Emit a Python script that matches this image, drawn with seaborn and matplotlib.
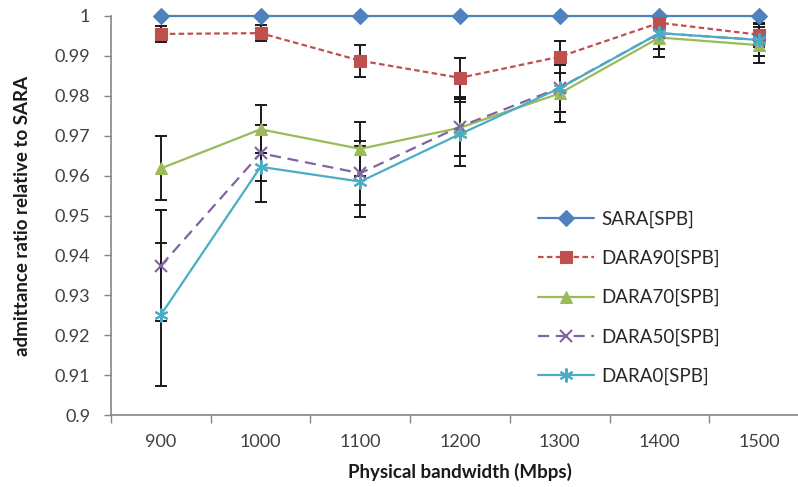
import numpy as np
import pandas as pd
import matplotlib
matplotlib.use("Agg")
import matplotlib.pyplot as plt
import seaborn as sns
from matplotlib.ticker import FixedLocator

categories = [900, 1000, 1100, 1200, 1300, 1400, 1500]
sara = [1.0, 1.0, 1.0, 1.0, 1.0, 1.0, 1.0]
dara90 = [0.9955, 0.9957, 0.9888, 0.9845, 0.9898, 0.9983, 0.9953]
dara90_err = [0.002, 0.002, 0.004, 0.005, 0.004, 0.0015, 0.003]
dara70 = [0.9618, 0.9716, 0.9667, 0.9720, 0.9806, 0.9946, 0.9927]
dara70_err = [0.008, 0.006, 0.0068, 0.0072, 0.0072, 0.0048, 0.0046]
dara50 = [0.9374, 0.9656, 0.9606, 0.9723, 0.9820, 0.9957, 0.9940]
dara50_err = [0.0139, 0.007, 0.008, 0.0075, 0.006, 0.004, 0.004]
dara0 = [0.9251, 0.9622, 0.9585, 0.9704, 0.9819, 0.9957, 0.9940]
dara0_err = [0.0179, 0.0089, 0.009, 0.008, 0.006, 0.004, 0.004]
series_names = ["SARA[SPB]", "DARA90[SPB]", "DARA70[SPB]", "DARA50[SPB]", "DARA0[SPB]"]
y_ticks = [0.9, 0.91, 0.92, 0.93, 0.94, 0.95, 0.96, 0.97, 0.98, 0.99, 1.0]
y_tick_labels = ["0.9", "0.91", "0.92", "0.93", "0.94", "0.95", "0.96", "0.97", "0.98", "0.99", "1"]

sns.set_theme(style="white")
plt.rcParams["font.family"] = ["Lato", "DejaVu Sans"]

values = [sara, dara90, dara70, dara50, dara0]
errors = [None, dara90_err, dara70_err, dara50_err, dara0_err]
colors = ["#4F81BD", "#C0504D", "#9BBB59", "#8064A2", "#4BACC6"]
markers = ["D", "s", "^", "x", (6, 2, 0)]
msizes = [8, 8.5, 8.5, 9, 10]
dashes = [(None, None), (2.5, 1.5), (None, None), (5, 3), (None, None)]

fig = plt.figure(figsize=(7.98, 4.87), dpi=100)
ax = fig.add_axes([111 / 798, (487 - 415) / 487, 698 / 798, 399 / 487])

xpos = np.arange(len(categories))
for name, vals, err, col, mk, ms, ds in zip(series_names, values, errors, colors, markers, msizes, dashes):
    df = pd.DataFrame({"x": xpos, "y": vals})
    sns.lineplot(data=df, x="x", y="y", ax=ax, color=col, marker=mk, markersize=ms,
                 markeredgecolor=col, markeredgewidth=1.5 if mk in ("x",) or isinstance(mk, tuple) else 0.8,
                 linewidth=1.6, label=name, clip_on=False, zorder=4)
    line = ax.lines[-1]
    if ds[0] is not None:
        line.set_dashes(ds)
    if err is not None:
        ax.errorbar(xpos, vals, yerr=err, fmt="none", ecolor="#1a1a1a", elinewidth=1.4,
                    capsize=4.5, capthick=1.4, zorder=3)

ax.set_xlim(-0.5, 6.5)
ax.set_ylim(0.9, 1.0)
ax.set_xticks(xpos)
ax.set_xticklabels([str(c) for c in categories], fontsize=13, color="#404040")
ax.xaxis.set_minor_locator(FixedLocator(np.arange(-0.5, 7.0, 1.0)))
ax.tick_params(axis="x", which="major", length=0, pad=14)
ax.tick_params(axis="x", which="minor", length=6, width=1, color="#868686", direction="out", bottom=True)
ax.set_yticks(y_ticks)
ax.set_yticklabels(y_tick_labels, fontsize=13, color="#404040")
ax.tick_params(axis="y", which="major", length=5, width=1, color="#868686", direction="out", left=True, pad=10)

for s in ["top", "right"]:
    ax.spines[s].set_visible(False)
for s in ["left", "bottom"]:
    ax.spines[s].set_color("#868686")
    ax.spines[s].set_linewidth(1.2)

ax.set_xlabel("Physical bandwidth (Mbps)", fontsize=13.5, fontweight="bold", color="#1a1a1a", labelpad=9)
ax.set_ylabel("admittance ratio relative to SARA", fontsize=13.5, fontweight="bold", color="#1a1a1a", labelpad=17)

leg = ax.legend(loc="upper left", bbox_to_anchor=(530 / 798, 1 - 203 / 487), bbox_transform=fig.transFigure,
                frameon=False, fontsize=13.5, handlelength=3.0, handletextpad=0.4, labelspacing=1.17,
                borderaxespad=0)
for t in leg.get_texts():
    t.set_color("#262626")

fig.savefig("out.png", dpi=100)
